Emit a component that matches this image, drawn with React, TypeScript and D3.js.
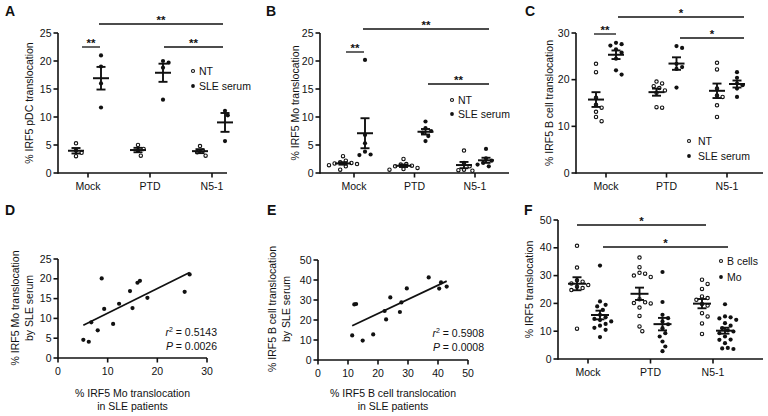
import React from "react";
import * as d3 from "d3";

const FONT = "'Liberation Sans', Arial, Helvetica, sans-serif";

const groupCats = ["Mock", "PTD", "N5-1"];

// Panel A: % IRF5 pDC translocation
const aNT = [[5.3, 4.0, 3.6, 3.0], [5.0, 4.3, 4.0, 3.1], [4.8, 4.0, 3.7, 3.1]];
const aSLE = [[21.0, 19.0, 16.0, 11.7], [20.0, 19.7, 18.8, 13.1], [11.1, 10.3, 5.7]];
const aTicks = [0, 5, 10, 15, 20, 25];

// Panel B: % IRF5 Mo translocation
const bNT = [
  [3.0, 2.2, 1.9, 1.8, 1.7, 1.6, 1.4, 1.2, 0.6],
  [2.5, 1.6, 1.5, 1.3, 1.2, 0.9, 0.7, 0.6],
  [4.0, 1.8, 1.2, 0.6, 0.5, 0.4],
];
const bSLE = [
  [20.2, 6.8, 5.3, 3.8, 3.3, 3.2],
  [9.2, 8.0, 7.5, 7.2, 6.6, 5.7],
  [4.3, 2.6, 2.2, 1.8, 1.5, 1.2],
];
const bTicks = [0, 5, 10, 15, 20, 25];

// Panel C: % IRF5 B cell translocation
const cNT = [
  [23.4, 21.6, 16.1, 14.6, 14.0, 13.1, 12.0, 11.1],
  [19.6, 19.2, 18.6, 18.2, 17.7, 17.2, 14.1, 14.0],
  [23.6, 22.2, 18.1, 16.6, 16.3, 14.5, 12.0],
];
const cSLE = [
  [27.9, 27.6, 27.3, 26.5, 25.8, 24.5, 22.0, 21.1],
  [27.2, 26.8, 23.4, 22.7, 22.3, 18.3],
  [21.6, 20.4, 19.2, 18.8, 18.1, 16.3],
];
const cTicks = [0, 10, 20, 30];

// Panel D: Mo correlation
const dX = [5.1, 6.2, 6.7, 8.0, 8.8, 9.3, 11.1, 12.3, 14.5, 15.0, 16.0, 16.5, 18.0, 25.5, 26.5];
const dY = [4.6, 4.1, 9.0, 7.0, 20.1, 12.4, 8.6, 13.7, 16.9, 12.6, 19.0, 19.5, 15.2, 16.7, 21.1];
const dXTicks = [0, 10, 20, 30];
const dYTicks = [0, 5, 10, 15, 20, 25];

// Panel E: B cell correlation
const eX = [11.4, 12.1, 12.7, 14.9, 18.4, 22.2, 22.7, 24.1, 27.3, 27.8, 29.6, 36.9, 40.4, 41.0, 42.9];
const eY = [12.3, 27.8, 28.0, 9.7, 12.8, 24.5, 20.3, 31.3, 24.0, 28.8, 35.8, 41.3, 35.7, 38.8, 36.7];
const eXTicks = [0, 10, 20, 30, 40, 50];
const eYTicks = [0, 10, 20, 30, 40, 50];

// Panel F: B cells vs Mo
const fB = [
  [40.7, 32.9, 28.3, 27.8, 27.2, 26.6, 26.0, 25.5, 24.8, 10.9],
  [36.5, 33.0, 31.0, 30.7, 30.0, 29.5, 21.5, 20.4, 20.1, 20.0, 18.5, 15.5, 11.7, 10.0],
  [28.5, 27.0, 25.2, 22.5, 21.9, 21.3, 19.8, 19.2, 16.5, 15.3, 12.8, 9.0],
];
const fMo = [
  [33.6, 20.7, 19.5, 18.9, 17.7, 15.9, 15.0, 14.4, 14.0, 13.5, 12.6, 12.0, 11.2, 10.5, 7.9],
  [31.3, 20.5, 15.9, 14.7, 13.5, 12.5, 11.1, 9.3, 8.1, 6.3, 4.5, 2.8],
  [19.7, 15.3, 15.0, 14.6, 14.1, 12.9, 12.0, 11.1, 10.3, 9.9, 9.3, 8.1, 7.0, 6.9, 5.7, 4.0, 3.8, 3.6],
];
const fTicks = [0, 10, 20, 30, 40, 50];

const INK = "#111";
const AX = 1.6;

function swarm(values: number[], cx: number, y: (v: number) => number, r: number) {
  const pts = values.map((v) => ({ v, py: y(v) })).sort((a, b) => a.py - b.py);
  const placed: { px: number; py: number }[] = [];
  const minD = 2 * r + 0.9;
  for (const p of pts) {
    let chosen = cx;
    for (let i = 0; i < 60; i++) {
      const k = Math.ceil(i / 2) * (i % 2 === 1 ? 1 : -1);
      const px = cx + k * minD * 0.55;
      const ok = placed.every((q) => Math.hypot(q.px - px, q.py - p.py) >= minD);
      if (ok) {
        chosen = px;
        break;
      }
    }
    placed.push({ px: chosen, py: p.py });
  }
  return placed;
}

function Marker({ x, y, filled, r }: any) {
  return filled ? (
    <circle cx={x} cy={y} r={r} fill={INK} />
  ) : (
    <circle cx={x} cy={y} r={r - 0.4} fill="#fff" stroke={INK} strokeWidth={1.1} />
  );
}

function YAxis({ x, y, ticks }: any) {
  return (
    <g>
      <line x1={x} x2={x} y1={y(ticks[0]) + 0.8} y2={y(ticks[ticks.length - 1])} stroke={INK} strokeWidth={AX} />
      {ticks.map((t: number) => (
        <g key={t}>
          <line x1={x - 4.5} x2={x} y1={y(t)} y2={y(t)} stroke={INK} strokeWidth={AX} />
          <text x={x - 6.5} y={y(t)} dy="0.35em" textAnchor="end" fontSize={10.5}>
            {t}
          </text>
        </g>
      ))}
    </g>
  );
}

function Sig({ x1, x2, y, label }: any) {
  return (
    <g>
      <line x1={x1} x2={x2} y1={y} y2={y} stroke={INK} strokeWidth={1.3} />
      <text x={(x1 + x2) / 2} y={y} textAnchor="middle" fontSize={11.5} fontWeight={700}>
        {label}
      </text>
    </g>
  );
}

function DotPanel(p: any) {
  const y = d3.scaleLinear().domain([0, p.ticks[p.ticks.length - 1]]).range([p.yBot, p.yTop]);
  const xc = d3.scalePoint<string>().domain(groupCats).range(p.centers);
  const r = 2.1;
  return (
    <g>
      <text x={p.letter[0]} y={p.letter[1]} fontSize={14} fontWeight={900}>
        {p.letterText}
      </text>
      <YAxis x={p.x0} y={y} ticks={p.ticks} />
      <line x1={p.x0} x2={p.x1} y1={p.yBot} y2={p.yBot} stroke={INK} strokeWidth={AX} />
      {groupCats.map((c) => (
        <g key={c}>
          <line x1={xc(c)} x2={xc(c)} y1={p.yBot} y2={p.yBot + 4.5} stroke={INK} strokeWidth={AX} />
          <text x={xc(c)} y={p.yBot + 13} dy="0.35em" textAnchor="middle" fontSize={10.5}>
            {c}
          </text>
        </g>
      ))}
      <text
        transform={`translate(${p.ylabelX},${(p.yTop + p.yBot) / 2}) rotate(-90)`}
        textAnchor="middle"
        dy="0.35em"
        fontSize={10.5}
      >
        {p.ylabel}
      </text>
      {p.series.map((s: any, si: number) =>
        groupCats.map((c, gi) => {
          const vals: number[] = s.values[gi];
          const cx = (xc(c) as number) + p.offsets[si];
          const pts = swarm(vals, cx, y, r);
          const m = d3.mean(vals) as number;
          const sem = (d3.deviation(vals) as number) / Math.sqrt(vals.length);
          return (
            <g key={c + si}>
              {pts.map((q, i) => (
                <Marker key={i} x={q.px} y={q.py} filled={s.filled} r={r} />
              ))}
              <line x1={cx} x2={cx} y1={y(m - sem)} y2={y(m + sem)} stroke={INK} strokeWidth={1.9} />
              <line x1={cx - p.meanW} x2={cx + p.meanW} y1={y(m)} y2={y(m)} stroke={INK} strokeWidth={2} />
              <line x1={cx - 4.5} x2={cx + 4.5} y1={y(m + sem)} y2={y(m + sem)} stroke={INK} strokeWidth={1.9} />
              <line x1={cx - 4.5} x2={cx + 4.5} y1={y(m - sem)} y2={y(m - sem)} stroke={INK} strokeWidth={1.9} />
            </g>
          );
        })
      )}
      {p.legend.map((l: any, i: number) => (
        <g key={i}>
          <Marker x={l.mx} y={l.y} filled={l.filled} r={1.9} />
          <text x={l.tx} y={l.y} dy="0.35em" fontSize={10.5}>
            {l.label}
          </text>
        </g>
      ))}
      {p.sigs.map((s: any, i: number) => (
        <Sig key={i} {...s} />
      ))}
    </g>
  );
}

function ScatterPanel(p: any) {
  const x = d3.scaleLinear().domain([0, p.xTicks[p.xTicks.length - 1]]).range([p.x0, p.x1]);
  const y = d3.scaleLinear().domain([0, p.yTicks[p.yTicks.length - 1]]).range([p.yBot, p.yTop]);
  const mx = d3.mean(p.xs as number[]) as number;
  const my = d3.mean(p.ys as number[]) as number;
  let sxy = 0,
    sxx = 0;
  p.xs.forEach((xv: number, i: number) => {
    sxy += (xv - mx) * (p.ys[i] - my);
    sxx += (xv - mx) * (xv - mx);
  });
  const slope = sxy / sxx;
  const icpt = my - slope * mx;
  const [xmin, xmax] = d3.extent(p.xs as number[]) as [number, number];
  return (
    <g>
      <text x={p.letter[0]} y={p.letter[1]} fontSize={14} fontWeight={900}>
        {p.letterText}
      </text>
      <YAxis x={p.x0} y={y} ticks={p.yTicks} />
      <line x1={p.x0} x2={p.x1} y1={p.yBot} y2={p.yBot} stroke={INK} strokeWidth={AX} />
      {p.xTicks.map((t: number) => (
        <g key={t}>
          <line x1={x(t)} x2={x(t)} y1={p.yBot} y2={p.yBot + 4.5} stroke={INK} strokeWidth={AX} />
          <text x={x(t)} y={p.yBot + 13} dy="0.35em" textAnchor="middle" fontSize={10.5}>
            {t}
          </text>
        </g>
      ))}
      {p.xs.map((xv: number, i: number) => (
        <circle key={i} cx={x(xv)} cy={y(p.ys[i])} r={2.1} fill={INK} />
      ))}
      <line
        x1={x(xmin)}
        x2={x(xmax)}
        y1={y(icpt + slope * xmin)}
        y2={y(icpt + slope * xmax)}
        stroke={INK}
        strokeWidth={1.7}
      />
      {p.xlabel.map((t: string, i: number) => (
        <text key={i} x={(p.x0 + p.x1) / 2} y={p.xlabelY + i * 13.5} dy="0.35em" textAnchor="middle" fontSize={10.5}>
          {t}
        </text>
      ))}
      {p.ylabel.map((t: string, i: number) => (
        <text
          key={i}
          transform={`translate(${p.ylabelX + i * 14},${p.ylabelCY}) rotate(-90)`}
          textAnchor="middle"
          dy="0.35em"
          fontSize={10.5}
        >
          {t}
        </text>
      ))}
      <text x={p.statX} y={p.statY} dy="0.35em" textAnchor="end" fontSize={10.5}>
        <tspan fontStyle="italic">r</tspan>
        <tspan dy={-4} fontSize={7}>
          2
        </tspan>
        <tspan dy={4}>{" = " + p.r2}</tspan>
      </text>
      <text x={p.statX} y={p.statY + 14} dy="0.35em" textAnchor="end" fontSize={10.5}>
        <tspan fontStyle="italic">P</tspan>
        <tspan>{" = " + p.pval}</tspan>
      </text>
    </g>
  );
}

export default function App() {
  return (
    <svg
      width={768}
      height={416}
      style={{ position: "absolute", left: 0, top: 0, background: "#fff" }}
      fontFamily={FONT}
      fill={INK}
    >
      <rect width={768} height={416} fill="#fff" />
      <DotPanel
        letterText="A"
        letter={[5, 16]}
        x0={58}
        x1={227}
        yTop={33}
        yBot={173}
        ticks={aTicks}
        centers={[88, 212]}
        offsets={[-12, 13]}
        meanW={8}
        ylabel="% IRF5 pDC translocation"
        ylabelX={29}
        series={[
          { values: aNT, filled: false },
          { values: aSLE, filled: true },
        ]}
        legend={[
          { mx: 193, tx: 199, y: 71, filled: false, label: "NT" },
          { mx: 193, tx: 199, y: 86, filled: true, label: "SLE serum" },
        ]}
        sigs={[
          { x1: 99, x2: 223, y: 24, label: "**" },
          { x1: 82, x2: 100, y: 47, label: "**" },
          { x1: 164, x2: 223, y: 47, label: "**" },
        ]}
      />
      <DotPanel
        letterText="B"
        letter={[266, 16]}
        x0={320}
        x1={509}
        yTop={33}
        yBot={173}
        ticks={bTicks}
        centers={[354, 475]}
        offsets={[-11, 11]}
        meanW={8}
        ylabel="% IRF5 Mo translocation"
        ylabelX={295}
        series={[
          { values: bNT, filled: false },
          { values: bSLE, filled: true },
        ]}
        legend={[
          { mx: 452, tx: 458, y: 100, filled: false, label: "NT" },
          { mx: 452, tx: 458, y: 114, filled: true, label: "SLE serum" },
        ]}
        sigs={[
          { x1: 363, x2: 489, y: 29, label: "**" },
          { x1: 346, x2: 364, y: 52, label: "**" },
          { x1: 428, x2: 489, y: 84, label: "**" },
        ]}
      />
      <DotPanel
        letterText="C"
        letter={[525, 16]}
        x0={576}
        x1={763}
        yTop={33}
        yBot={173}
        ticks={cTicks}
        centers={[606, 727]}
        offsets={[-10, 10]}
        meanW={8}
        ylabel="% IRF5 B cell translocation"
        ylabelX={549}
        series={[
          { values: cNT, filled: false },
          { values: cSLE, filled: true },
        ]}
        legend={[
          { mx: 689, tx: 698, y: 141, filled: false, label: "NT" },
          { mx: 689, tx: 698, y: 156, filled: true, label: "SLE serum" },
        ]}
        sigs={[
          { x1: 618, x2: 744, y: 17, label: "*" },
          { x1: 594, x2: 616, y: 34, label: "**" },
          { x1: 680, x2: 744, y: 38, label: "*" },
        ]}
      />
      <ScatterPanel
        letterText="D"
        letter={[5, 215]}
        x0={58}
        x1={207}
        yTop={259}
        yBot={358}
        xTicks={dXTicks}
        yTicks={dYTicks}
        xs={dX}
        ys={dY}
        xlabel={["% IRF5 Mo translocation", "in SLE patients"]}
        xlabelY={393}
        ylabel={["% IRF5 Mo translocation", "by SLE serum"]}
        ylabelX={15}
        ylabelCY={308}
        statX={217}
        statY={332}
        r2="0.5143"
        pval="0.0026"
      />
      <ScatterPanel
        letterText="E"
        letter={[267, 215]}
        x0={318}
        x1={468}
        yTop={260}
        yBot={360}
        xTicks={eXTicks}
        yTicks={eYTicks}
        xs={eX}
        ys={eY}
        xlabel={["% IRF5 B cell translocation", "in SLE patients"]}
        xlabelY={393}
        ylabel={["% IRF5 B cell translocation", "by SLE serum"]}
        ylabelX={272}
        ylabelCY={309}
        statX={484}
        statY={333}
        r2="0.5908"
        pval="0.0008"
      />
      <DotPanel
        letterText="F"
        letter={[524, 215]}
        x0={558}
        x1={763}
        yTop={220}
        yBot={359}
        ticks={fTicks}
        centers={[588, 713]}
        offsets={[-11, 12]}
        meanW={9}
        ylabel="% IRF5 translocation"
        ylabelX={529}
        series={[
          { values: fB, filled: false },
          { values: fMo, filled: true },
        ]}
        legend={[
          { mx: 721, tx: 727, y: 261, filled: false, label: "B cells" },
          { mx: 721, tx: 727, y: 277, filled: true, label: "Mo" },
        ]}
        sigs={[
          { x1: 577, x2: 706, y: 225, label: "*" },
          { x1: 603, x2: 728, y: 247, label: "*" },
        ]}
      />
    </svg>
  );
}
